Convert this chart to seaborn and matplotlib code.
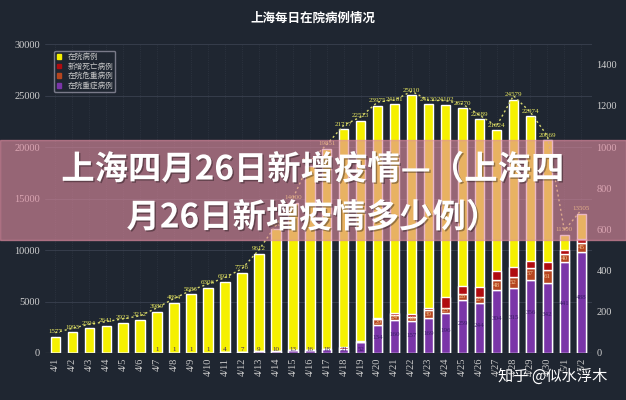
import matplotlib
matplotlib.use("Agg")
import matplotlib.pyplot as plt
import matplotlib.patheffects as pe
import seaborn as sns
import numpy as np
import pandas as pd

sns.set_theme(style="dark")
plt.rcParams['font.family'] = ['Noto Sans CJK SC', 'DejaVu Sans']

dates = ["4/1","4/2","4/3","4/4","4/5","4/6","4/7","4/8","4/9","4/10","4/11","4/12","4/13","4/14","4/15","4/16",
         "4/17","4/18","4/19","4/20","4/21","4/22","4/23","4/24","4/25","4/26","4/27","4/28","4/29","4/30","5/1","5/2"]
hospital = [1577,1993,2394,2641,2922,3212,3989,4894,5683,6306,6921,7776,9612,12000,14600,18170,
            19851,21717,22523,23975,24161,25010,24130,24102,23770,22689,21624,24579,22974,20669,11500,13505]
severe = [0,0,0,0,0,0,1,1,1,1,4,7,9,10,13,16,18,21,52,134,160,157,169,196,259,244,304,315,356,342,441,488]
critical = [0,0,0,0,0,0,0,0,0,0,0,0,0,0,0,0,0,0,0,29,24,18,39,23,28,27,48,52,57,61,40,45]
deaths = [0,0,0,0,0,0,0,0,0,0,0,0,0,0,0,0,0,7,8,7,11,12,12,51,39,48,47,52,32,38,20,20]

df = pd.DataFrame({"date": dates, "hospital": hospital, "severe": severe,
                   "critical": critical, "deaths": deaths})
x = np.arange(len(dates))

bg = "#1f2631"
fig = plt.figure(figsize=(6.26, 4.0), dpi=100, facecolor=bg)
ax = fig.add_axes([0.072, 0.1175, 0.873, 0.7725], facecolor=bg)
ax2 = ax.twinx()

sns.barplot(data=df, x="date", y="hospital", color="#f5f000", saturation=1, width=0.55, ax=ax, zorder=2)
ax.plot(x, df["hospital"] + 400, ls=(0, (1.5, 2)), color="#d8d870", lw=1, zorder=3)
w = 0.55
ax2.bar(x, df["severe"], width=w, color="#7a35a8", zorder=3)
ax2.bar(x, df["critical"], width=w, bottom=df["severe"], color="#b5451f", zorder=3)
ax2.bar(x, df["deaths"], width=w, bottom=df["severe"] + df["critical"], color="#b00c10", zorder=3)

for i, v in enumerate(hospital):
    ax.text(i, v + 250, str(v), ha="center", va="bottom", fontsize=5, color="#e8e860", family="Liberation Serif")
for i, v in enumerate(severe):
    if v > 0:
        ax2.text(i, 15 if v < 60 else v * 0.55, str(v), ha="center", va="center", fontsize=5,
                 color="#3a1e66", family="Liberation Serif")
for i, v in enumerate(critical):
    if v > 0:
        ax2.text(i, severe[i] + v / 2, str(v), ha="center", va="center", fontsize=5,
                 color="#f0c090", family="Liberation Serif")

ax.set_xlim(-0.6, len(dates) - 0.4)
ax.set_ylim(0, 30000)
ax2.set_ylim(0, 1500)
ax.set_yticks([0, 5000, 10000, 15000, 20000, 25000, 30000])
ax2.set_yticks([0, 200, 400, 600, 800, 1000, 1200, 1400])
for a in (ax, ax2):
    a.tick_params(axis="y", colors="#d0d0d0", labelsize=7.5, length=0)
    for lab in a.get_yticklabels():
        lab.set_family("Liberation Serif")
    for s in a.spines.values():
        s.set_visible(False)
ax2.grid(False)
ax.grid(axis="y", color="#3a4150", lw=0.6)
ax.grid(axis="x", color="#343b48", lw=0.5, ls=":")
ax.set_xlabel("")
ax.set_ylabel("")
ax.tick_params(axis="x", colors="#c8c8c8", labelsize=7.5, rotation=90, length=0)
for lab in ax.get_xticklabels():
    lab.set_family("Liberation Serif")
ax.axhline(0, color="#8a8a8a", lw=0.8, zorder=4)

fig.text(0.5, 0.955, "上海每日在院病例情况", ha="center", va="center", color="white", fontsize=9, weight="bold")

from matplotlib.patches import Rectangle, Patch
ax.legend(handles=[Patch(color="#f5f000", label="在院病例"), Patch(color="#b00c10", label="新增死亡病例"),
                   Patch(color="#b5451f", label="在院危重病例"), Patch(color="#7a35a8", label="在院重症病例")],
          loc="upper left", bbox_to_anchor=(0.01, 0.99), fontsize=5.5, frameon=True, facecolor=bg,
          edgecolor="#9090a0", labelcolor="#c8c8c8", handlelength=0.6, handleheight=0.6,
          borderpad=0.3, labelspacing=0.2)

fig.patches.append(Rectangle((0, 0.4), 1, 0.25, transform=fig.transFigure, color="#e08ca0",
                             alpha=0.62, zorder=10))
shadow = [pe.withSimplePatchShadow(offset=(1, -1), shadow_rgbFace="#000000", alpha=0.35)]
fig.text(0.5, 0.575, "上海四月26日新增疫情—（上海四", ha="center", va="center", color="white",
         fontsize=24, weight="bold", zorder=11, path_effects=shadow)
fig.text(0.5, 0.455, "月26日新增疫情多少例）", ha="center", va="center", color="white",
         fontsize=24, weight="bold", zorder=11, path_effects=shadow)
fig.text(0.97, 0.06, "知乎 @似水浮木", ha="right", va="center", color="white", fontsize=11, zorder=11)

fig.savefig("out.png", dpi=100, facecolor=bg)
